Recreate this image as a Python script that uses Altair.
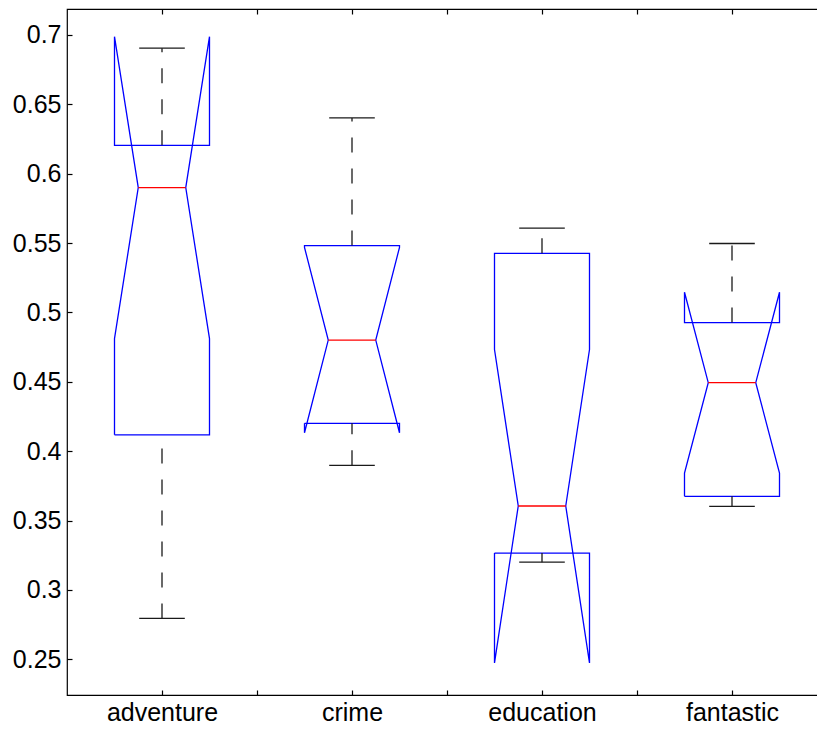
import altair as alt
import pandas as pd

categories = ["adventure", "crime", "education", "fantastic"]
upper_whisker = [0.6905, 0.6402, 0.5608, 0.5497]
q3 = [0.6205, 0.5482, 0.5426, 0.4927]
median = [0.5900, 0.4801, 0.3605, 0.4494]
q1 = [0.4118, 0.4201, 0.3266, 0.3675]
lower_whisker = [0.2795, 0.3898, 0.3200, 0.3603]
notch_low = [0.4812, 0.4133, 0.2474, 0.3843]
notch_high = [0.6988, 0.5469, 0.4733, 0.5146]
y_ticks = [0.25, 0.3, 0.35, 0.4, 0.45, 0.5, 0.55, 0.6, 0.65, 0.7]
x_ticks = [1, 1.5, 2, 2.5, 3, 3.5, 4]

BOX_HALF = 0.25
NOTCH_HALF = 0.125
CAP_HALF = 0.12

outline_rows, whisker_rows, cap_rows, median_rows = [], [], [], []
for i, cat in enumerate(categories):
    c = i + 1
    verts = [
        (-BOX_HALF, q1[i]), (-BOX_HALF, notch_low[i]), (-NOTCH_HALF, median[i]),
        (-BOX_HALF, notch_high[i]), (-BOX_HALF, q3[i]), (BOX_HALF, q3[i]),
        (BOX_HALF, notch_high[i]), (NOTCH_HALF, median[i]), (BOX_HALF, notch_low[i]),
        (BOX_HALF, q1[i]), (-BOX_HALF, q1[i]),
    ]
    for k, (dx, yv) in enumerate(verts):
        outline_rows.append({"cat": cat, "k": k, "x": c + dx, "y": yv})
    whisker_rows.append({"cat": cat, "x": c, "y": q3[i], "y2": upper_whisker[i]})
    whisker_rows.append({"cat": cat, "x": c, "y": lower_whisker[i], "y2": q1[i]})
    for v in (upper_whisker[i], lower_whisker[i]):
        cap_rows.append({"cat": cat, "x": c - CAP_HALF, "x2": c + CAP_HALF, "y": v})
    median_rows.append({"cat": cat, "x": c - NOTCH_HALF, "x2": c + NOTCH_HALF, "y": median[i]})

outline = pd.DataFrame(outline_rows)
whiskers = pd.DataFrame(whisker_rows)
caps = pd.DataFrame(cap_rows)
medians = pd.DataFrame(median_rows)

FONT = "Liberation Sans"
xscale = alt.Scale(domain=[0.5, 4.5], nice=False, zero=False)
yscale = alt.Scale(domain=[0.22427, 0.71874], nice=False, zero=False)

label_expr = ("datum.value % 1 == 0 ? " + str(categories) + "[datum.value - 1] : ''")

x_bottom = alt.Axis(orient="bottom", values=x_ticks, labelExpr=label_expr, title=None,
                    offset=-5, tickSize=5, labelPadding=5, domain=False, grid=False,
                    labelOverlap=False, labelFlush=False)
y_left = alt.Axis(orient="left", values=y_ticks, format=".2~f", title=None,
                  offset=-5, tickSize=5, labelPadding=6, domain=False, grid=False,
                  labelOverlap=False, labelFlush=False)
x_top = alt.Axis(orient="top", values=x_ticks, labels=False, title=None,
                 offset=-5, tickSize=5, domain=False, grid=False)
y_right = alt.Axis(orient="right", values=y_ticks, labels=False, title=None,
                   offset=-5, tickSize=5, domain=False, grid=False)

X = lambda ax: alt.X("x:Q", scale=xscale, axis=ax)
Y = lambda ax: alt.Y("y:Q", scale=yscale, axis=ax)

box_layer = alt.Chart(outline).mark_line(color="#0000ff", strokeWidth=1.3).encode(
    x=X(x_bottom), y=Y(y_left), detail="cat:N", order="k:Q"
)
whisker_layer = alt.Chart(whiskers).mark_rule(color="#1a1a1a", strokeWidth=1.3, strokeDash=[15, 16]).encode(
    x=X(x_bottom), y=Y(y_left), y2="y2:Q"
)
cap_layer = alt.Chart(caps).mark_rule(color="#1a1a1a", strokeWidth=1.3).encode(
    x=X(x_bottom), x2="x2:Q", y=Y(y_left)
)
median_layer = alt.Chart(medians).mark_rule(color="#ff0000", strokeWidth=1.3).encode(
    x=X(x_bottom), x2="x2:Q", y=Y(y_left)
)
main = alt.layer(box_layer, whisker_layer, cap_layer, median_layer)

frame_ticks = alt.Chart(medians).mark_rule(opacity=0).encode(
    x=X(x_top), x2="x2:Q", y=Y(y_right)
)

chart = alt.layer(main, frame_ticks).resolve_axis(x="independent", y="independent").properties(
    width=760, height=686,
    background="white",
    autosize=alt.AutoSizeParams(type="none"),
    padding={"left": 59, "top": 1, "right": -10, "bottom": 29},
).configure_view(stroke="#000000", strokeWidth=1.2).configure_axis(
    labelFont=FONT, labelFontSize=25, labelColor="#000000", tickColor="#000000", tickWidth=1.2
)

chart.save("out.html", embed_options={"renderer": "svg", "actions": False})
